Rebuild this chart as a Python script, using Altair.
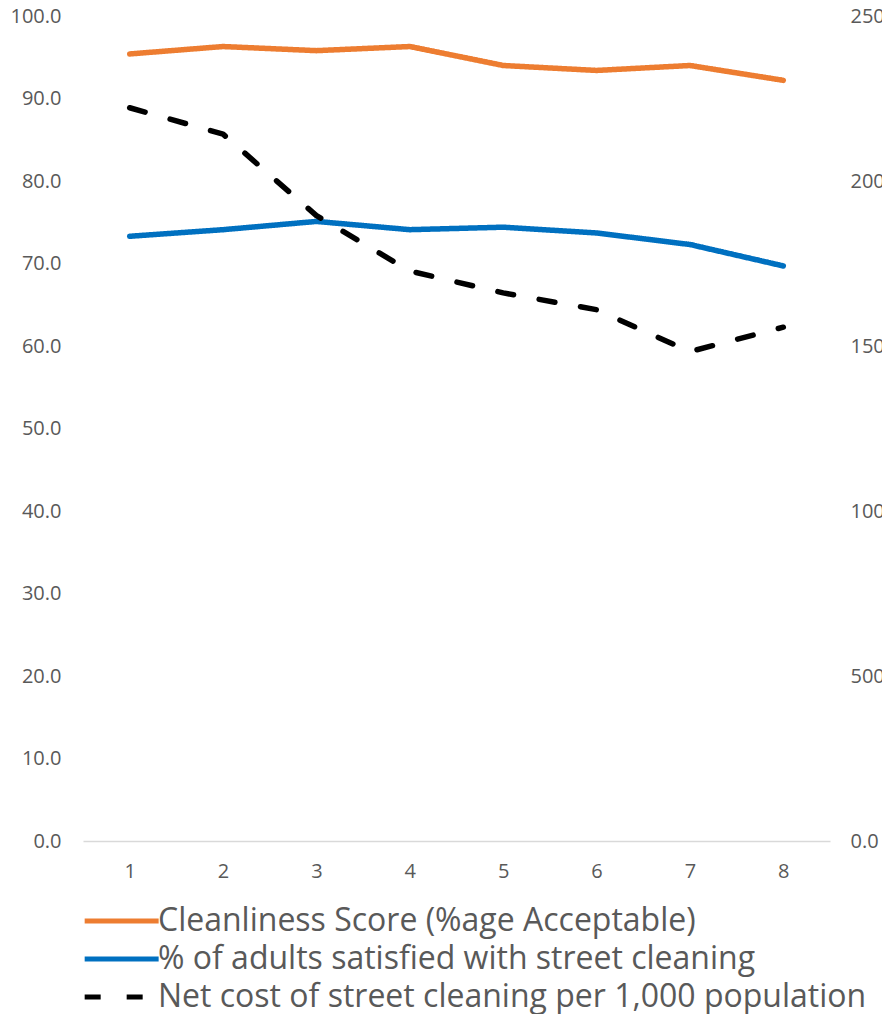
import altair as alt
import pandas as pd

periods = ["1", "2", "3", "4", "5", "6", "7", "8"]
cleanliness = [95.4, 96.3, 95.8, 96.3, 94.0, 93.4, 94.0, 92.2]
satisfied = [73.3, 74.1, 75.1, 74.1, 74.4, 73.7, 72.3, 69.7]
net_cost = [22220, 21420, 18950, 17270, 16610, 16100, 14830, 15570]

series_names = [
    "Cleanliness Score (%age Acceptable)",
    "% of adults satisfied with street cleaning",
    "Net cost of street cleaning per 1,000 population",
]
series_colors = ["#ED7D31", "#0070C0", "#000000"]
series_dashes = [[1, 0], [1, 0], [16, 26]]

left_values = [0, 10, 20, 30, 40, 50, 60, 70, 80, 90, 100]
right_values = [0, 5000, 10000, 15000, 20000, 25000]

df_left = pd.DataFrame(
    {
        "period": periods * 2,
        "value": cleanliness + satisfied,
        "series": [series_names[0]] * 8 + [series_names[1]] * 8,
    }
)
df_right = pd.DataFrame(
    {"period": periods, "cost": net_cost, "series": [series_names[2]] * 8}
)

FONT = "Open Sans"
TXT = "#595959"

legend = alt.Legend(
    title=None,
    orient="none",
    legendX=-2,
    legendY=889,
    symbolType="M-1,0H5",
    symbolSize=608,
    symbolStrokeWidth=5,
    labelFontSize=32,
    labelFont=FONT,
    labelColor=TXT,
    labelOffset=45,
    labelLimit=1000,
    rowPadding=6,
    padding=0,
)

color = alt.Color(
    "series:N",
    scale=alt.Scale(domain=series_names, range=series_colors),
    legend=legend,
)
dash = alt.StrokeDash(
    "series:N",
    scale=alt.Scale(domain=series_names, range=series_dashes),
    legend=legend,
)

x_enc = alt.X(
    "period:O",
    scale=alt.Scale(padding=0.5),
    axis=alt.Axis(
        title=None,
        labelAngle=0,
        labelFont=FONT,
        labelFontSize=20,
        labelColor=TXT,
        labelPadding=20,
        ticks=False,
        domainColor="#D9D9D9",
        domainWidth=1.5,
        grid=False,
    ),
)

left = (
    alt.Chart(df_left)
    .mark_line(strokeWidth=5.5, strokeCap="round", strokeJoin="round")
    .encode(
        x=x_enc,
        y=alt.Y(
            "value:Q",
            scale=alt.Scale(domain=[0, 100], nice=False),
            axis=alt.Axis(
                title=None,
                values=left_values,
                format=".1f",
                labelFont=FONT,
                labelFontSize=20,
                labelColor=TXT,
                labelPadding=22,
                ticks=False,
                domain=False,
                grid=False,
            ),
        ),
        color=color,
        strokeDash=dash,
    )
)

right = (
    alt.Chart(df_right)
    .mark_line(strokeWidth=5.5, strokeCap="round", strokeJoin="round")
    .encode(
        x=x_enc,
        y=alt.Y(
            "cost:Q",
            scale=alt.Scale(domain=[0, 25000], nice=False),
            axis=alt.Axis(
                title=None,
                orient="right",
                values=right_values,
                format=".1f",
                labelFont=FONT,
                labelFontSize=20,
                labelColor=TXT,
                labelPadding=20,
                ticks=False,
                domain=False,
                grid=False,
            ),
        ),
        color=color,
        strokeDash=dash,
    )
)

chart = (
    alt.layer(left, right)
    .resolve_scale(y="independent")
    .properties(
        width=747,
        height=825,
        autosize=alt.AutoSizeParams(type="none"),
        padding={"left": 75, "top": 8, "right": 52, "bottom": 173},
    )
    .configure_view(stroke=None)
)

chart.save("out.html", embed_options={"renderer": "svg", "actions": False})
